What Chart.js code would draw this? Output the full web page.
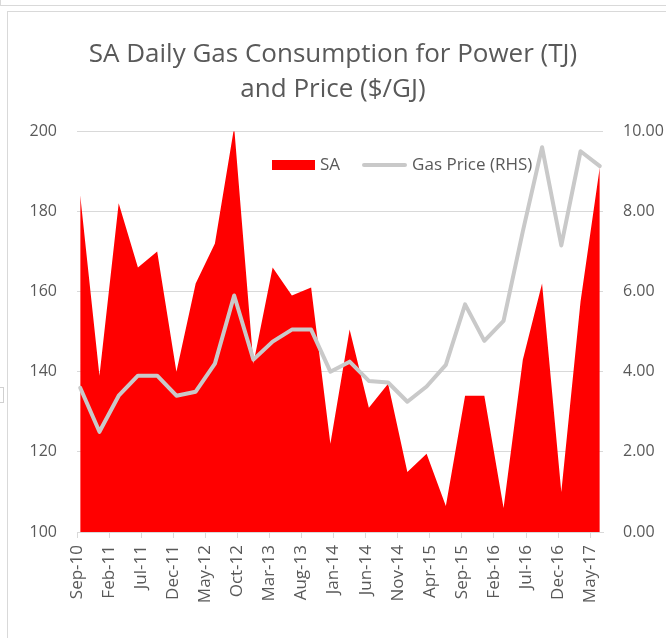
<!DOCTYPE html>
<html lang="en">
<head>
  <meta charset="UTF-8">
  <title>SA Daily Gas Consumption for Power and Price</title>
  <script src="https://cdn.jsdelivr.net/npm/chart.js"></script>
  <style>
    html, body {
      margin: 0;
      padding: 0;
      width: 666px;
      height: 638px;
      overflow: hidden;
      background: #fff;
      font-family: 'Open Sans', sans-serif;
    }
    #frame {
      position: absolute;
      left: 7px;
      top: 11px;
      width: 700px;
      height: 700px;
      border: 1px solid #d9d9d9;
    }
    #topstrip {
      position: absolute;
      left: 0;
      top: -20px;
      width: 700px;
      height: 24px;
      border: 1px solid #d9d9d9;
    }
    #side {
      position: absolute;
      left: -4px;
      top: 387px;
      width: 6px;
      height: 14px;
      border: 1px solid #d0d0d0;
    }
    #chart-box {
      position: absolute;
      left: 0;
      top: 0;
      width: 666px;
      height: 638px;
    }
    /* legend sits inside the plot, over the area */
    #legend {
      position: absolute;
      left: 272px;
      top: 154px;
      height: 20px;
      display: flex;
      align-items: center;
      font-size: 17px;
      line-height: 20px;
      color: #595959;
      white-space: nowrap;
    }
    #legend .sw-box {
      width: 43px;
      height: 10px;
      margin-top: 2px;
    }
    #legend .sw-line {
      width: 45px;
      height: 4px;
      border-radius: 2px;
      margin-top: 2px;
    }
    #legend .txt {
      margin-left: 5px;
      margin-right: 22px;
    }
  </style>
</head>
<body>
  <div id="topstrip"></div>
  <div id="frame"></div>
  <div id="side"></div>
  <div id="chart-box">
    <canvas id="myChart" width="666" height="638"></canvas>
  </div>
  <div id="legend"></div>

  <script>
    // quarterly observations
    const quarters = [
      'Sep-10', 'Dec-10', 'Mar-11', 'Jun-11', 'Sep-11', 'Dec-11', 'Mar-12', 'Jun-12',
      'Sep-12', 'Dec-12', 'Mar-13', 'Jun-13', 'Sep-13', 'Dec-13', 'Mar-14', 'Jun-14',
      'Sep-14', 'Dec-14', 'Mar-15', 'Jun-15', 'Sep-15', 'Dec-15', 'Mar-16', 'Jun-16',
      'Sep-16', 'Dec-16', 'Mar-17', 'Jun-17'
    ];

    // SA gas consumption for power (TJ/day)
    const saGas = [
      184, 139, 182, 166, 170, 140, 162, 172,
      201, 142, 166, 159, 161, 122, 150.5, 131,
      137, 115, 119.5, 106.5, 134, 134, 106, 143,
      162, 110, 157.5, 191
    ];

    // gas price ($/GJ), right axis
    const gasPrice = [
      3.6, 2.5, 3.4, 3.9, 3.9, 3.4, 3.5, 4.2,
      5.9, 4.3, 4.75, 5.05, 5.05, 4.0, 4.25, 3.77,
      3.73, 3.25, 3.63, 4.17, 5.68, 4.77, 5.27, 7.5,
      9.6, 7.15, 9.5, 9.13
    ];

    // x axis labels, one every 5 months
    const xTickLabels = [
      'Sep-10', 'Feb-11', 'Jul-11', 'Dec-11', 'May-12', 'Oct-12', 'Mar-13', 'Aug-13',
      'Jan-14', 'Jun-14', 'Nov-14', 'Apr-15', 'Sep-15', 'Feb-16', 'Jul-16', 'Dec-16', 'May-17'
    ];

    const leftTicks = { min: 100, max: 200, step: 20 };
    const rightTicks = { min: 0, max: 10, step: 2 };

    const MONTHS = ['Jan','Feb','Mar','Apr','May','Jun','Jul','Aug','Sep','Oct','Nov','Dec'];

    // months since Sep-10, point sits in the middle of its month
    function monthPos(label) {
      const [mon, yy] = label.split('-');
      return (parseInt(yy, 10) - 10) * 12 + MONTHS.indexOf(mon) - 8 + 0.5;
    }

    const saPoints = quarters.map((q, i) => ({ x: monthPos(q), y: saGas[i] }));
    const pricePoints = quarters.map((q, i) => ({ x: monthPos(q), y: gasPrice[i] }));

    const TEXT = '#595959';
    const GRID = '#d9d9d9';
    const RED = '#ff0000';
    const GREY = '#c9c9c9';
    Chart.defaults.font.family = "'Open Sans', sans-serif";
    Chart.defaults.color = TEXT;

    const ctx = document.getElementById('myChart').getContext('2d');
    const chart = new Chart(ctx, {
      data: {
        datasets: [
          {
            type: 'line',
            label: 'SA',
            data: saPoints,
            yAxisID: 'yGas',
            backgroundColor: RED,
            borderColor: RED,
            borderWidth: 0,
            fill: 'start',
            pointRadius: 0,
            tension: 0,
            clip: { left: 0, top: 6, right: 0, bottom: 0 },
            order: 2
          },
          {
            type: 'line',
            label: 'Gas Price (RHS)',
            data: pricePoints,
            yAxisID: 'yPrice',
            backgroundColor: GREY,
            borderColor: GREY,
            borderWidth: 4,
            borderJoinStyle: 'round',
            borderCapStyle: 'round',
            fill: false,
            pointRadius: 0,
            tension: 0,
            order: 1
          }
        ]
      },
      options: {
        responsive: false,
        animation: false,
        devicePixelRatio: 1,
        layout: { padding: 0 },
        plugins: {
          title: {
            display: true,
            text: ['SA Daily Gas Consumption for Power (TJ)', 'and Price ($/GJ)'],
            color: TEXT,
            font: { size: 26, weight: 'normal', lineHeight: 1.35 },
            padding: { top: 37, bottom: 24 }
          },
          legend: { display: false },
          tooltip: { enabled: false }
        },
        scales: {
          x: {
            type: 'linear',
            min: 0,
            max: 82,
            afterFit: (s) => { s.height = 106; },
            grid: {
              drawOnChartArea: false,
              drawTicks: true,
              tickLength: 6,
              color: GRID
            },
            border: { display: true, color: GRID },
            ticks: {
              stepSize: 5,
              includeBounds: false,
              autoSkip: false,
              maxRotation: 90,
              minRotation: 90,
              padding: 7,
              color: TEXT,
              font: { size: 17 },
              callback: (v) => xTickLabels[v / 5]
            }
          },
          yGas: {
            type: 'linear',
            position: 'left',
            min: leftTicks.min,
            max: leftTicks.max,
            afterFit: (s) => { s.width = 77; },
            grid: { color: GRID, drawTicks: false },
            border: { display: false },
            ticks: {
              stepSize: leftTicks.step,
              padding: 20,
              color: TEXT,
              font: { size: 16 }
            }
          },
          yPrice: {
            type: 'linear',
            position: 'right',
            min: rightTicks.min,
            max: rightTicks.max,
            afterFit: (s) => { s.width = 63; },
            grid: { drawOnChartArea: false, drawTicks: false },
            border: { display: false },
            ticks: {
              stepSize: rightTicks.step,
              padding: 20,
              color: TEXT,
              font: { size: 16 },
              callback: (v) => v.toFixed(2)
            }
          }
        }
      }
    });

    // legend built from the datasets
    const legendEl = document.getElementById('legend');
    chart.data.datasets.forEach((ds, i) => {
      const sw = document.createElement('span');
      sw.className = i === 0 ? 'sw-box' : 'sw-line';
      sw.style.background = ds.backgroundColor;
      const txt = document.createElement('span');
      txt.className = 'txt';
      txt.textContent = ds.label;
      legendEl.appendChild(sw);
      legendEl.appendChild(txt);
    });
  </script>
</body>
</html>
